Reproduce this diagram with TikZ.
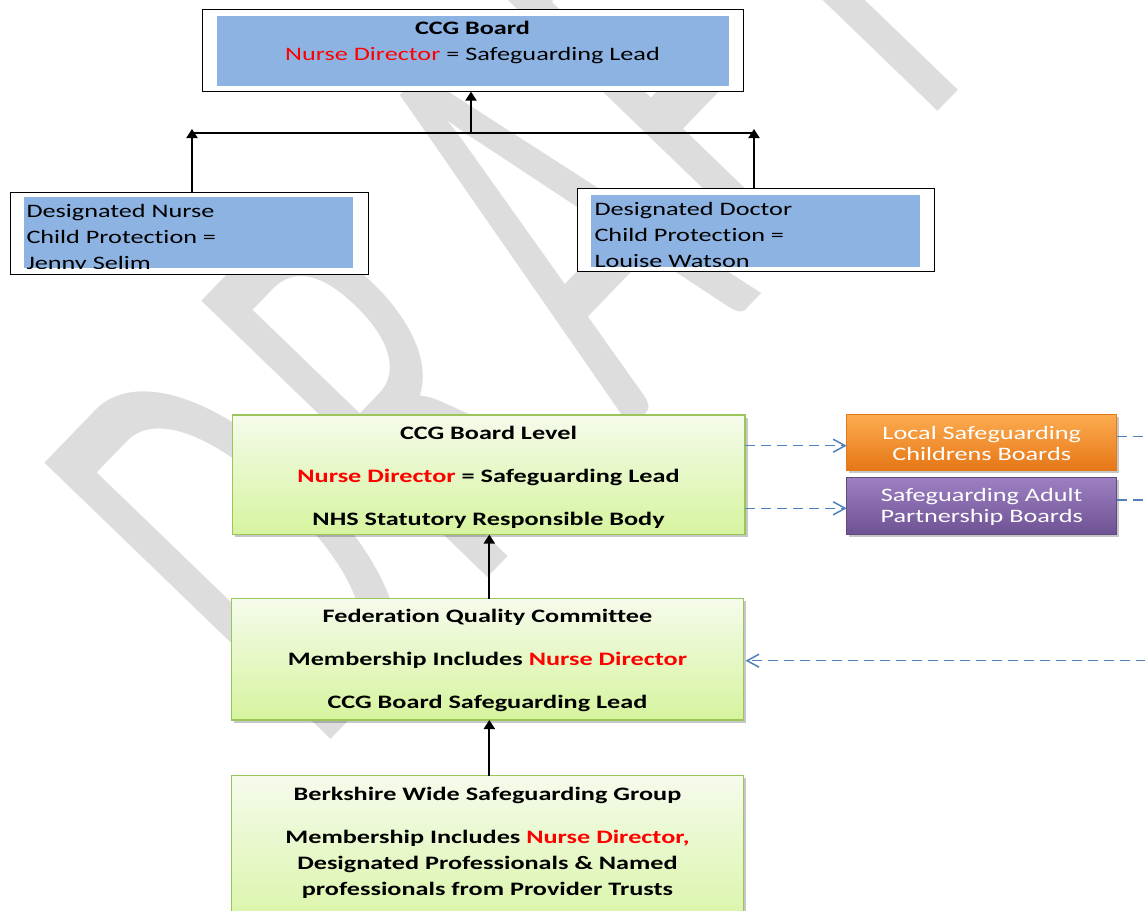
\documentclass[tikz,border=0pt]{standalone}
\usepackage{fontspec}
\setmainfont{Carlito}
\newfontfamily\cfont[FakeStretch=1.38,Ligatures=NoCommon]{Carlito}
\usetikzlibrary{arrows.meta,shadows}
\definecolor{bluefill}{RGB}{141,179,226}
\definecolor{wm}{RGB}{221,221,221}
\definecolor{gtop}{RGB}{245,251,236}
\definecolor{gbot}{RGB}{214,244,158}
\definecolor{gborder}{RGB}{155,196,90}
\definecolor{otop}{RGB}{252,172,80}
\definecolor{obot}{RGB}{230,118,22}
\definecolor{oborder}{RGB}{226,122,30}
\definecolor{ptop}{RGB}{156,128,194}
\definecolor{pbot}{RGB}{110,82,148}
\definecolor{pborder}{RGB}{96,74,130}
\definecolor{dblue}{RGB}{79,129,189}
\definecolor{rtext}{RGB}{255,0,0}
\begin{document}
\begin{tikzpicture}[x=1pt,y=-1pt,
  every node/.style={inner sep=0pt,outer sep=0pt},
  txt/.style={font=\cfont\fontsize{19}{26}\selectfont,anchor=base},
  btxt/.style={font=\cfont\bfseries\fontsize{19}{26}\selectfont,anchor=base},
  wtxt/.style={font=\cfont\fontsize{19}{26}\selectfont,anchor=base,text=white},
  wmletter/.style={rotate=46,anchor=base west,text=wm,font=\fontsize{620}{620}\selectfont},
  whitebox/.style={draw=black,line width=1pt,fill=white,rectangle},
  bluebox/.style={fill=bluefill,rectangle},
  greenbox/.style={draw=gborder,line width=1.4pt,top color=gtop,bottom color=gbot,rectangle,
    drop shadow={shadow xshift=2.5pt,shadow yshift=-2.5pt,fill=black,opacity=0.22}},
  orangebox/.style={draw=oborder,line width=1pt,top color=otop,bottom color=obot,rectangle,
    drop shadow={shadow xshift=2.5pt,shadow yshift=-2.5pt,fill=black,opacity=0.22}},
  purplebox/.style={draw=pborder,line width=1pt,top color=ptop,bottom color=pbot,rectangle,
    drop shadow={shadow xshift=2.5pt,shadow yshift=-2.5pt,fill=black,opacity=0.22}},
  arr/.style={-{Triangle[length=9pt,width=11pt]},line width=2pt,draw=black},
  plain/.style={line width=1.5pt,draw=black},
  dasharr/.style={-{Straight Barb[length=12pt,width=13pt]},line width=1.5pt,draw=dblue,dash pattern=on 10pt off 6pt},
  dashline/.style={line width=1.5pt,draw=dblue,dash pattern=on 10pt off 6pt}
]
\useasboundingbox (0,0) rectangle (1145,910);
\fill[white] (0,0) rectangle (1145,910);

% watermark, letter by letter
\node[wmletter] (wD) at (315.5,755.6) {\scalebox{0.53}[1]{D}};
\node[wmletter] (wR) at (471.2,594.5) {\scalebox{0.53}[1]{R}};
\node[wmletter] (wA) at (630.7,429.5) {\scalebox{0.53}[1]{A}};
\node[wmletter] (wF) at (770.7,284.6) {\scalebox{0.53}[1]{F}};
\node[wmletter] (wT) at (892.4,158.8) {\scalebox{0.53}[1]{T}};

% top box
\node[whitebox,minimum width=541pt,minimum height=82pt] (top) at (472.5,50.6) {};
\node[bluebox,minimum width=512pt,minimum height=70pt] (topin) at (472.8,50.7) {};
\node[btxt] (top1) at (472.5,34) {CCG Board};
\node[txt] (top2) at (472.5,60) {\textcolor{rtext}{Nurse Director} = Safeguarding Lead};

% left box
\node[whitebox,minimum width=358pt,minimum height=82pt] (lnurse) at (189,233) {};
\node[bluebox,minimum width=329.5pt,minimum height=71pt] (lnursein) at (188.25,232.5) {};
\begin{scope}
\clip (lnursein.south west) rectangle (lnursein.north east);
\node[txt,anchor=base west] (ln1) at (26.5,217.5) {Designated Nurse};
\node[txt,anchor=base west] (ln2) at (26.5,243.5) {Child Protection =};
\node[txt,anchor=base west] (ln3) at (26.5,269.5) {Jenny Selim};
\end{scope}

% right box
\node[whitebox,minimum width=357pt,minimum height=83pt] (rdoc) at (755.5,229.5) {};
\node[bluebox,minimum width=329pt,minimum height=72pt] (rdocin) at (755.5,231) {};
\begin{scope}
\clip (rdocin.south west) rectangle (rdocin.north east);
\node[txt,anchor=base west] (rd1) at (594.5,215.5) {Designated Doctor};
\node[txt,anchor=base west] (rd2) at (594.5,241.5) {Child Protection =};
\node[txt,anchor=base west] (rd3) at (594.5,267.5) {Louise Watson};
\end{scope}

% connectors top
\coordinate (tl) at (192,129);
\coordinate (tr) at (754,129);
\coordinate (bl) at (192,133);
\coordinate (br) at (754,133);
\coordinate (tm) at (471,133);
\draw[arr] (lnurse.north -| tl) -- (tl);
\draw[arr] (rdoc.north -| tr) -- (tr);
\draw[plain] (bl) -- (br);
\draw[arr] (tm) -- (tm |- top.south);

% green boxes
\node[greenbox,minimum width=512.5pt,minimum height=119.5pt] (g1) at (488.75,474.75) {};
\node[btxt] (g1a) at (488.5,439) {CCG Board Level};
\node[btxt] (g1b) at (488.5,482) {\textcolor{rtext}{Nurse Director} = Safeguarding Lead};
\node[btxt] (g1c) at (488.5,525.5) {NHS Statutory Responsible Body};

\node[greenbox,minimum width=512pt,minimum height=121.5pt] (g2) at (487.5,659.25) {};
\node[btxt] (g2a) at (487.5,622.5) {Federation Quality Committee};
\node[btxt] (g2b) at (487.5,665.5) {Membership Includes \textcolor{rtext}{Nurse Director}};
\node[btxt] (g2c) at (487.5,708.5) {CCG Board Safeguarding Lead};

\node[greenbox,minimum width=512pt,minimum height=170pt] (g3) at (487.5,860.5) {};
\node[btxt] (g3a) at (487.5,800) {Berkshire Wide Safeguarding Group};
\node[btxt] (g3b) at (487.5,843) {Membership Includes \textcolor{rtext}{Nurse Director,}};
\node[btxt] (g3c) at (487.5,869.5) {Designated Professionals \& Named};
\node[btxt] (g3d) at (487.5,895.5) {professionals from Provider Trusts};

\coordinate (ga) at (489.3,0);
\draw[arr] (g2.north -| ga) -- (g1.south -| ga);
\draw[arr] (g3.north -| ga) -- (g2.south -| ga);

% side boards
\node[orangebox,minimum width=270pt,minimum height=56.5pt] (orange) at (981.7,442.6) {};
\node[wtxt] (o1) at (981.7,439.3) {Local Safeguarding};
\node[wtxt] (o2) at (981.7,460.7) {Childrens Boards};
\node[purplebox,minimum width=270pt,minimum height=57pt] (purple) at (981.7,505.8) {};
\node[wtxt] (p1) at (981.7,501.5) {Safeguarding Adult};
\node[wtxt] (p2) at (981.7,522.7) {Partnership Boards};

% dashed connectors
\coordinate (oy) at (0,445.7);
\coordinate (py) at (0,508.3);
\coordinate (oyr) at (0,436.7);
\coordinate (pyr) at (0,500);
\coordinate (oend) at (1146,436.7);
\coordinate (pend) at (1146,500);
\coordinate (rin) at (1146,660.7);
\draw[dasharr] (g1.east |- oy) -- (orange.west |- oy);
\draw[dasharr] (g1.east |- py) -- (purple.west |- py);
\draw[dashline] (orange.east |- oyr) -- (oend);
\draw[dashline] (purple.east |- pyr) -- (pend);
\draw[dasharr,shorten >=2pt] (rin) -- (g2.east |- rin);
\end{tikzpicture}
\end{document}
